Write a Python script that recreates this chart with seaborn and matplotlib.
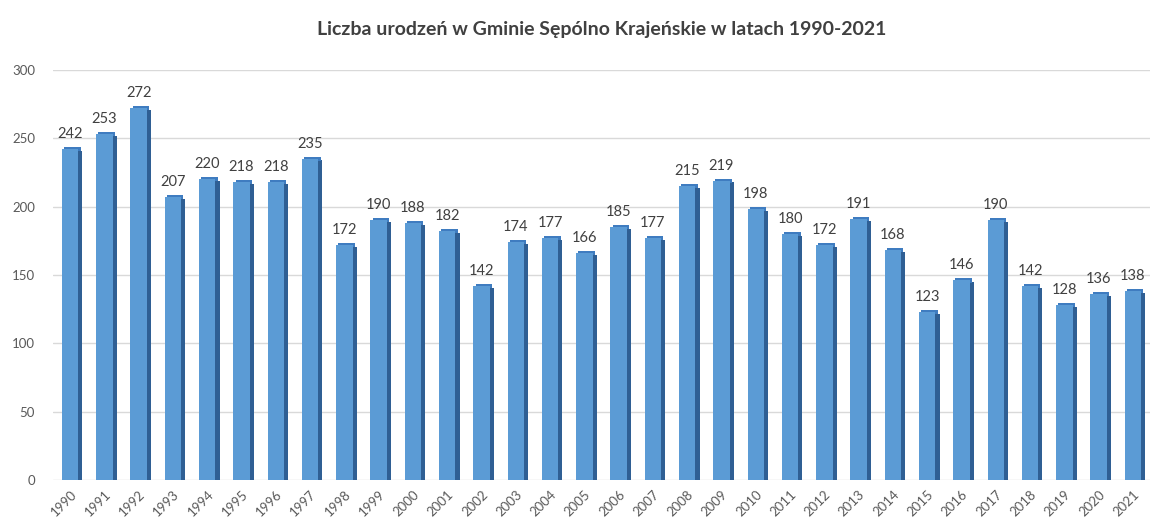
import numpy as np
import pandas as pd
import matplotlib
matplotlib.use("Agg")
import matplotlib.pyplot as plt
import seaborn as sns

years = [str(y) for y in range(1990, 2022)]
births = [242, 253, 272, 207, 220, 218, 218, 235, 172, 190, 188, 182, 142, 174, 177, 166,
          185, 177, 215, 219, 198, 180, 172, 191, 168, 123, 146, 190, 142, 128, 136, 138]
title = "Liczba urodzeń w Gminie Sępólno Krajeńskie w latach 1990-2021"
yticks = [0, 50, 100, 150, 200, 250, 300]

sns.set_theme(style="white")
plt.rcParams['font.family'] = ['Lato', 'DejaVu Sans']

df = pd.DataFrame({"year": years, "births": births})

fig = plt.figure(figsize=(11.67, 5.25), dpi=100)
ax = fig.add_axes([53/1167, 45/525, (1150-53)/1167, 410/525])

for yv in yticks:
    ax.axhline(yv, color="#d9d9d9", lw=1, zorder=0)

bw = 0.48
depth = 0.13
x = np.arange(len(years))
# side face for 3D look
ax.bar(x + bw/2 + depth/2 - 0.01, np.array(births) - 1.2, width=depth, bottom=0,
       color="#2f5f94", zorder=1, linewidth=0)
# top face
ax.bar(x + depth/2, [3.0]*len(births), bottom=np.array(births) - 1.5, width=bw,
       color="#3f7cc0", zorder=1, linewidth=0)
sns.barplot(data=df, x="year", y="births", color="#5b9bd5", saturation=1,
            width=bw, ax=ax, zorder=2, linewidth=0)

for i, v in enumerate(births):
    ax.text(i, v + 6, str(v), ha="center", va="bottom", fontsize=10.5, color="#404040")

ax.set_ylim(0, 300)
ax.set_xlim(-0.5, len(years) - 0.5)
ax.set_yticks(yticks)
ax.set_yticklabels([str(v) for v in yticks], fontsize=9.5, color="#595959")
ax.set_xticks(x)
ax.set_xticklabels(years, rotation=45, ha="right", rotation_mode="anchor",
                   fontsize=9.5, color="#595959")
ax.tick_params(axis="both", length=0)
ax.tick_params(axis="x", pad=6)
ax.tick_params(axis="y", pad=13)
ax.set_xlabel("")
ax.set_ylabel("")
for s in ax.spines.values():
    s.set_visible(False)

fig.text(602/1167, 1 - 30/525, title, ha="center", va="center", fontsize=14,
         fontweight="bold", color="#404040")

fig.savefig("out.png", dpi=100, facecolor="white")
